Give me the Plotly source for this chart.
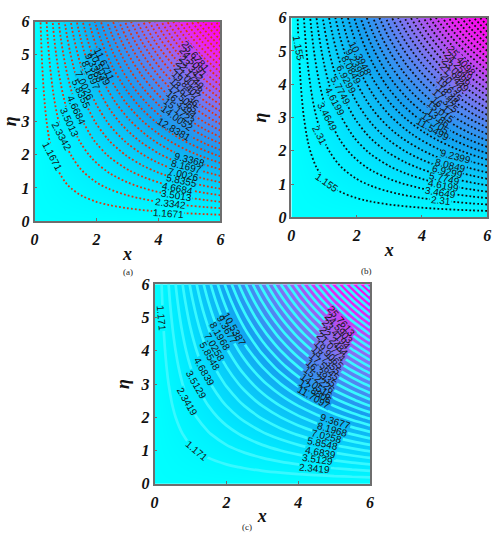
import math
import plotly.graph_objects as go

FIG_W = 502
FIG_H = 550

# field, every 0.5 on both axes
grid_x = [0, 0.5, 1, 1.5, 2, 2.5, 3, 3.5, 4, 4.5, 5, 5.5, 6]
grid_y = [0, 0.5, 1, 1.5, 2, 2.5, 3, 3.5, 4, 4.5, 5, 5.5, 6]
field = [
    [0, 0, 0, 0, 0, 0, 0, 0, 0, 0, 0, 0, 0],
    [0, 0.25, 0.5, 0.75, 1, 1.25, 1.5, 1.75, 2, 2.25, 2.5, 2.75, 3],
    [0, 0.5, 1, 1.5, 2, 2.5, 3, 3.5, 4, 4.5, 5, 5.5, 6],
    [0, 0.75, 1.5, 2.25, 3, 3.75, 4.5, 5.25, 6, 6.75, 7.5, 8.25, 9],
    [0, 1, 2, 3, 4, 5, 6, 7, 8, 9, 10, 11, 12],
    [0, 1.25, 2.5, 3.75, 5, 6.25, 7.5, 8.75, 10, 11.25, 12.5, 13.75, 15],
    [0, 1.5, 3, 4.5, 6, 7.5, 9, 10.5, 12, 13.5, 15, 16.5, 18],
    [0, 1.75, 3.5, 5.25, 7, 8.75, 10.5, 12.25, 14, 15.75, 17.5, 19.25, 21],
    [0, 2, 4, 6, 8, 10, 12, 14, 16, 18, 20, 22, 24],
    [0, 2.25, 4.5, 6.75, 9, 11.25, 13.5, 15.75, 18, 20.25, 22.5, 24.75, 27],
    [0, 2.5, 5, 7.5, 10, 12.5, 15, 17.5, 20, 22.5, 25, 27.5, 30],
    [0, 2.75, 5.5, 8.25, 11, 13.75, 16.5, 19.25, 22, 24.75, 27.5, 30.25, 33],
    [0, 3, 6, 9, 12, 15, 18, 21, 24, 27, 30, 33, 36],
]

tick_vals_x = [0, 2, 4, 6]
tick_vals_y = [0, 1, 2, 3, 4, 5, 6]

# contour labels: text, x, eta, angle
labels_a = [
    ("11.6711", 2.26, 4.72, 65), ("10.5039", 2.12, 4.60, 65), ("9.3368", 1.95, 4.60, 65),
    ("8.1697", 1.82, 4.37, 65), ("7.0026", 1.61, 4.08, 65), ("5.8355", 1.50, 3.84, 65),
    ("4.6684", 1.34, 3.35, 65), ("3.5013", 1.13, 2.97, 65), ("2.3342", 0.88, 2.55, 62),
    ("1.1671", 0.58, 1.95, 62),
    ("9.3368", 4.99, 1.84, 15), ("8.1697", 4.89, 1.65, 14), ("7.0026", 4.80, 1.41, 13),
    ("5.8355", 4.73, 1.21, 12), ("4.6684", 4.62, 0.99, 11), ("3.5013", 4.59, 0.78, 9),
    ("2.3342", 4.38, 0.54, 7), ("1.1671", 4.31, 0.24, 4),
    ("25.6781", 5.20, 4.95, 50), ("24.5091", 5.13, 4.77, 49), ("23.342", 5.07, 4.60, 48),
    ("22.1749", 5.02, 4.42, 47), ("21.0078", 4.96, 4.25, 46), ("19.8407", 4.91, 4.08, 45),
    ("18.6736", 4.85, 3.86, 44), ("17.5065", 4.80, 3.68, 43), ("16.3394", 4.74, 3.50, 41),
    ("15.1723", 4.68, 3.30, 39), ("14.0052", 4.62, 3.10, 36), ("12.8381", 4.52, 2.77, 30),
]
labels_b = [
    ("1.155", 0.21, 5.10, 80),
    ("10.3948", 2.12, 4.78, 62), ("9.2399", 1.97, 4.63, 62), ("8.0849", 1.83, 4.44, 62),
    ("6.9299", 1.69, 4.15, 62), ("5.7749", 1.51, 3.81, 62), ("4.6199", 1.33, 3.47, 62),
    ("3.4649", 1.10, 3.03, 62), ("2.31", 0.86, 2.45, 62), ("1.155", 1.08, 1.04, 35),
    ("9.2399", 5.04, 1.82, 15), ("8.0849", 4.89, 1.57, 14), ("6.9299", 4.77, 1.38, 13),
    ("5.7749", 4.69, 1.18, 12), ("4.6199", 4.66, 0.96, 11), ("3.4649", 4.56, 0.75, 9),
    ("2.31", 4.57, 0.50, 6),
    ("25.4098", 5.20, 4.70, 48), ("24.2549", 5.13, 4.53, 47), ("23.0999", 5.06, 4.36, 46),
    ("21.9449", 4.99, 4.19, 45), ("20.79", 4.92, 4.02, 44), ("19.635", 4.85, 3.85, 43),
    ("18.48", 4.78, 3.68, 42), ("17.325", 4.71, 3.51, 41), ("16.17", 4.64, 3.34, 40),
    ("15.015", 4.57, 3.17, 38), ("13.86", 4.50, 3.00, 36), ("12.705", 4.43, 2.83, 34),
    ("11.5499", 4.35, 2.65, 30),
]
labels_c = [
    ("1.171", 0.20, 4.98, 85),
    ("10.5387", 2.23, 4.64, 60), ("9.3677", 2.02, 4.64, 60), ("8.1968", 1.82, 4.42, 60),
    ("7.0258", 1.68, 4.10, 60), ("5.8548", 1.54, 3.82, 60), ("4.6839", 1.38, 3.38, 60),
    ("3.5129", 1.16, 2.99, 60), ("2.3419", 0.91, 2.48, 60), ("1.171", 1.16, 1.00, 40),
    ("9.3677", 5.03, 1.88, 18), ("8.1968", 4.94, 1.64, 16), ("7.0258", 4.80, 1.41, 14),
    ("5.8548", 4.68, 1.20, 12), ("4.6839", 4.62, 0.93, 10), ("3.5129", 4.54, 0.72, 8),
    ("2.3419", 4.46, 0.47, 5),
    ("25.7613", 5.21, 4.88, 50), ("24.5903", 5.14, 4.68, 49), ("23.4194", 5.07, 4.49, 48),
    ("22.2484", 5.00, 4.29, 47), ("21.0774", 4.93, 4.10, 46), ("19.9065", 4.86, 3.90, 45),
    ("18.7355", 4.79, 3.71, 44), ("17.5645", 4.72, 3.52, 42), ("16.3935", 4.65, 3.32, 41),
    ("15.2226", 4.58, 3.13, 39), ("14.0516", 4.51, 2.93, 36), ("12.8806", 4.47, 2.76, 33),
    ("11.7097", 4.44, 2.60, 30),
]

colour_stops = [(0.0, (0, 255, 255)), (0.1, (0, 232, 255)), (0.33, (20, 160, 240)),
                (0.6, (140, 110, 240)), (0.8, (230, 40, 240)), (1.0, (255, 0, 235))]
colorscale = [[s, "rgb(%d,%d,%d)" % c] for s, c in colour_stops]
ZMAX = 36


def field_colour(value):
    t = min(value / ZMAX, 1)
    for (s0, c0), (s1, c1) in zip(colour_stops, colour_stops[1:]):
        if t <= s1:
            f = (t - s0) / (s1 - s0)
            return "rgb(%d,%d,%d)" % tuple(c0[i] + f * (c1[i] - c0[i]) for i in range(3))
    return colorscale[-1][1]


# panel boxes in pixels: left, right, top, bottom
panels = [
    dict(box=(31, 220, 14, 220), level=1.1671, labels=labels_a, line="#e0340f", width=1.8, dash="1.8px,2.2px",
         caption="(a)", cap_xy=(119, 272), ax=""),
    dict(box=(292, 491, 10, 216), level=1.155, labels=labels_b, line="#101010", width=1.8, dash="1.8px,2.2px",
         caption="(b)", cap_xy=(376, 271), ax="2"),
    dict(box=(153, 372, 285, 491), level=1.171, labels=labels_c, line="#38f8ff", width=2.7, dash="solid",
         caption="(c)", cap_xy=(247, 543), ax="3"),
]

serif_tick = dict(family="Liberation Serif, Times New Roman, serif", size=16, color="#111111")
serif_title = dict(family="Liberation Serif, Times New Roman, serif", size=18, color="#111111")

fig = go.Figure()
layout_extra = {}
shapes = []
annotations = []

for p in panels:
    left, right, top, bottom = p["box"]
    xname = "x" + p["ax"]
    yname = "y" + p["ax"]
    fig.add_trace(go.Contour(
        x=grid_x, y=grid_y, z=field,
        xaxis=xname, yaxis=yname,
        zmin=0, zmax=ZMAX,
        colorscale=colorscale,
        showscale=False,
        line=dict(color=p["line"], width=p["width"], dash=p["dash"], smoothing=1),
        contours=dict(coloring="heatmap", start=p["level"], end=p["level"] * 31, size=p["level"]),
        hoverinfo="skip",
    ))
    common = dict(
        range=[0, 6], showgrid=False, zeroline=False, showline=True, mirror=True,
        linecolor="#6e6e6e", linewidth=1.5, ticks="inside", ticklen=3, tickcolor="#6e6e6e",
        tickfont=serif_tick,
    )
    layout_extra["xaxis" + p["ax"]] = dict(
        common, anchor=yname, domain=[left / FIG_W, right / FIG_W], tickvals=tick_vals_x,
        ticktext=["<b><i>%d</i></b>" % v for v in tick_vals_x], ticklabelstandoff=3,
        title=dict(text="<b><i>x</i></b>", font=serif_title, standoff=0),
    )
    layout_extra["yaxis" + p["ax"]] = dict(
        common, anchor=xname, domain=[1 - bottom / FIG_H, 1 - top / FIG_H], tickvals=tick_vals_y,
        ticktext=["<b><i>%d</i></b>" % v for v in tick_vals_y],
        title=dict(text="<b><i>η</i></b>", font=serif_title, standoff=6),
    )

    # gaps in the lines under the labels
    px_x = (right - left) / 6
    px_y = (bottom - top) / 6
    for text, lx, ly, angle in p["labels"]:
        half = len(text) * 2.7
        dx = math.cos(math.radians(angle)) * half / px_x
        dy = math.sin(math.radians(angle)) * half / px_y
        shapes.append(dict(
            type="line", xref=xname, yref=yname, layer="above",
            x0=lx - dx, x1=lx + dx, y0=ly + dy, y1=ly - dy,
            line=dict(color=field_colour(float(text)), width=9),
        ))
        annotations.append(dict(
            text=text, x=lx, y=ly, xref=xname, yref=yname, showarrow=False, textangle=angle,
            font=dict(family="Liberation Sans", size=10, color="#151515"),
        ))
    annotations.append(dict(
        text=p["caption"], x=p["cap_xy"][0] / FIG_W, y=1 - p["cap_xy"][1] / FIG_H,
        xref="paper", yref="paper", showarrow=False,
        font=dict(family="Liberation Serif", size=9, color="#222222"),
    ))

fig.update_layout(
    width=FIG_W, height=FIG_H,
    margin=dict(l=0, r=0, t=0, b=0),
    paper_bgcolor="white",
    plot_bgcolor="white",
    showlegend=False,
    shapes=shapes,
    annotations=annotations,
    **layout_extra,
)

fig.write_html("out.html", config=dict(displayModeBar=False), post_script="document.body.style.margin = '0';")
